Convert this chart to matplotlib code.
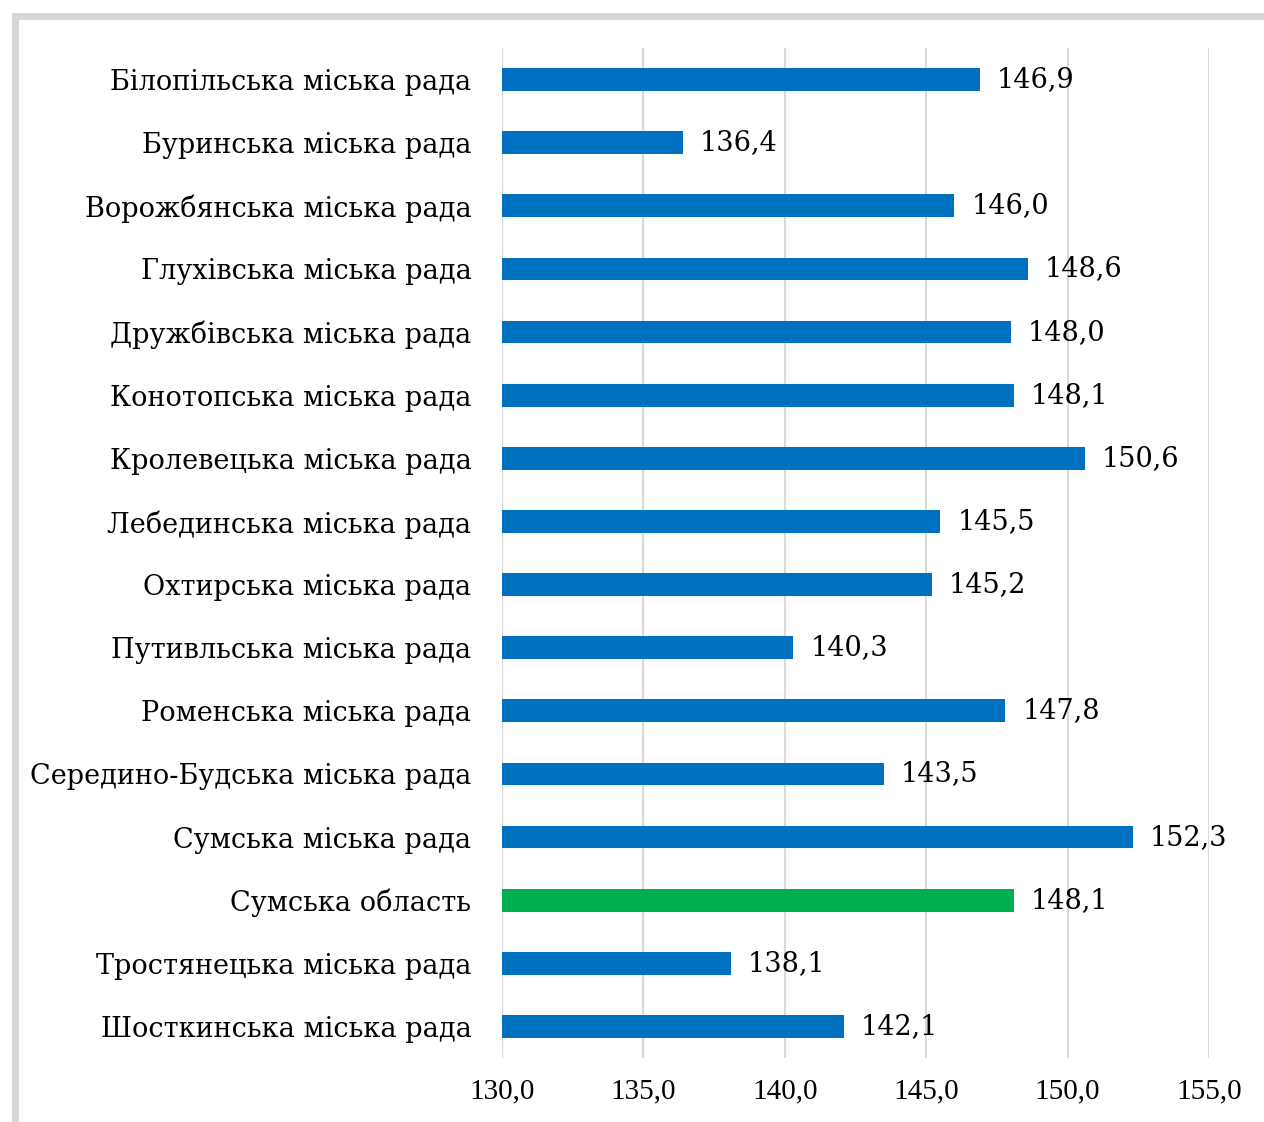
import matplotlib.pyplot as plt
from matplotlib.patches import Rectangle

names = [
    "Білопільська міська рада",
    "Буринська міська рада",
    "Ворожбянська міська рада",
    "Глухівська міська рада",
    "Дружбівська міська рада",
    "Конотопська міська рада",
    "Кролевецька міська рада",
    "Лебединська міська рада",
    "Охтирська міська рада",
    "Путивльська міська рада",
    "Роменська міська рада",
    "Середино-Будська міська рада",
    "Сумська міська рада",
    "Сумська область",
    "Тростянецька міська рада",
    "Шосткинська міська рада",
]
values = [146.9, 136.4, 146.0, 148.6, 148.0, 148.1, 150.6, 145.5,
          145.2, 140.3, 147.8, 143.5, 152.3, 148.1, 138.1, 142.1]
highlight = "Сумська область"
ticks = [130, 135, 140, 145, 150, 155]

blue = "#0070C0"
green = "#00B050"

fig = plt.figure(figsize=(12.64, 11.22), dpi=100)
fig.patch.set_facecolor("white")

# grey shadow frame along top and left edge
fig.patches.append(Rectangle((15 / 1264, -0.1), 1.2, 1 - 16 / 1122 + 0.1,
                             transform=fig.transFigure, fill=False,
                             edgecolor="#d6d6d6", linewidth=5, zorder=0))

ax = fig.add_axes([502 / 1264, 64 / 1122, 707 / 1264, 1010 / 1122])

colors = [green if n == highlight else blue for n in names]
y = range(len(names))
ax.barh(y, [v - 130 for v in values], left=130, height=0.36, color=colors, zorder=3)

for i, v in enumerate(values):
    ax.text(v + 0.6, i, f"{v:.1f}".replace(".", ","), va="center", ha="left",
            fontsize=19.5, family="DejaVu Serif", zorder=4)

ax.set_xlim(130, 155)
ax.set_ylim(len(names) - 0.5, -0.5)
ax.set_xticks(ticks)
ax.set_xticklabels([f"{t:.1f}".replace(".", ",") for t in ticks],
                   family="Liberation Serif", fontsize=21)
ax.set_yticks(list(y))
ax.set_yticklabels(names, family="DejaVu Serif", fontsize=19.5)
ax.tick_params(axis="both", length=0)
ax.tick_params(axis="x", pad=15)
ax.tick_params(axis="y", pad=22)
ax.grid(axis="x", color="#d9d9d9", linewidth=1.5, zorder=0)
for s in ax.spines.values():
    s.set_visible(False)

fig.savefig("out.png", dpi=100)
